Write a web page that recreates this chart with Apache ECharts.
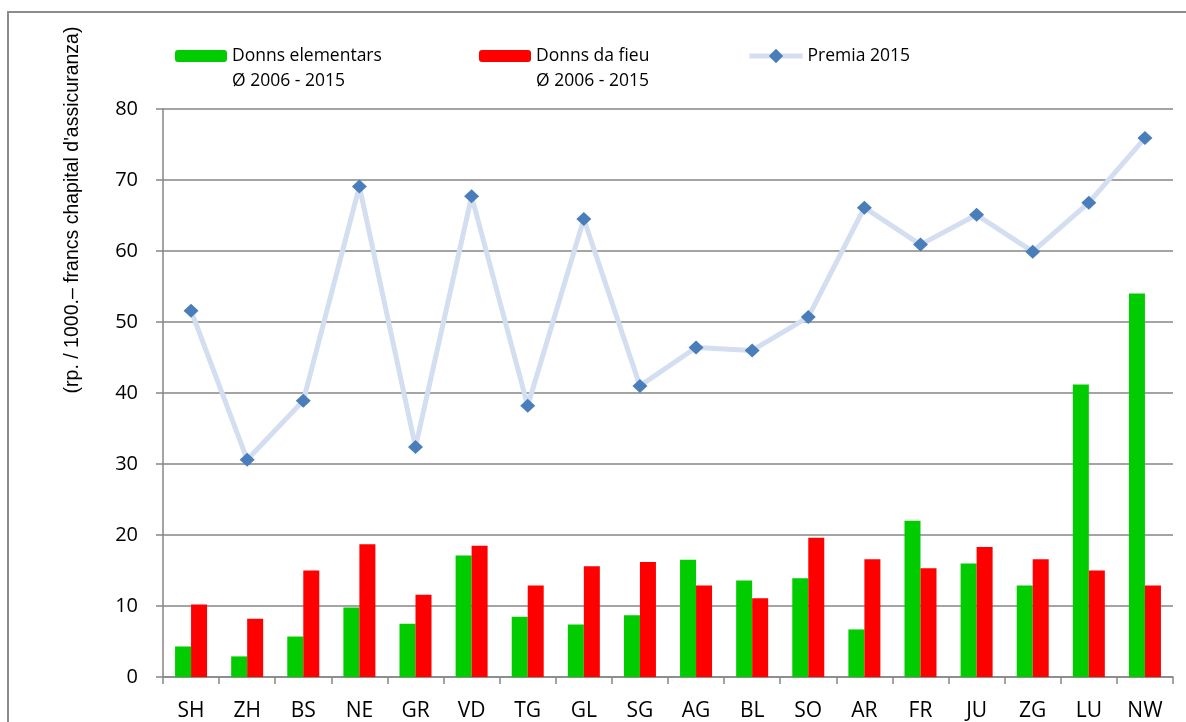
<!DOCTYPE html>
<html>
<head>
<meta charset="utf-8">
<script src="https://cdn.jsdelivr.net/npm/echarts@6/dist/echarts.min.js"></script>
<style>
html,body{margin:0;padding:0;background:#fff;}
#chart{width:1186px;height:722px;}
</style>
</head>
<body>
<div id="chart"></div>
<script>
const categories = ['SH','ZH','BS','NE','GR','VD','TG','GL','SG','AG','BL','SO','AR','FR','JU','ZG','LU','NW'];
const elementars = [4.3, 2.9, 5.7, 9.8, 7.5, 17.1, 8.5, 7.4, 8.7, 16.5, 13.6, 13.9, 6.7, 22.0, 16.0, 12.9, 41.2, 54.0];
const fieu = [10.2, 8.2, 15.0, 18.7, 11.6, 18.5, 12.9, 15.6, 16.2, 12.9, 11.1, 19.6, 16.6, 15.3, 18.3, 16.6, 15.0, 12.9];
const premia = [51.6, 30.6, 38.9, 69.1, 32.4, 67.7, 38.2, 64.5, 41.0, 46.4, 46.0, 50.7, 66.1, 60.9, 65.1, 59.9, 66.8, 75.9];
const seriesNames = ['Donns elementars', 'Donns da fieu', 'Premia 2015'];
const subNote = 'Ø 2006 - 2015';
const yTitle = "(rp. / 1000.– francs chapital d'assicuranza)";
const yTicks = {min: 0, max: 80, interval: 10};

const FONT = 'Open Sans';
const axisGray = '#868686';
const chart = echarts.init(document.getElementById('chart'));

function twoLine(name){ return '{a|' + name + '}\n{a|' + subNote + '}'; }
const legendText = {
  fontFamily: FONT, fontSize: 17.5, color: '#000',
  rich: { a: { fontFamily: FONT, fontSize: 17.5, lineHeight: 25, color: '#000' } },
  padding: [25, 0, 0, 0]
};

chart.setOption({
  animation: false,
  backgroundColor: '#fff',
  textStyle: { fontFamily: FONT },
  graphic: [
    { type: 'rect', shape: { x: 8, y: 12, width: 1200, height: 800 },
      style: { fill: 'none', stroke: '#8c8c8c', lineWidth: 2 }, silent: true, z: -10 },
    { type: 'text', x: 73, y: 210, rotation: Math.PI / 2,
      style: { text: yTitle, fontFamily: 'Liberation Sans', fontSize: 19.5, fill: '#000',
               textAlign: 'center', textVerticalAlign: 'middle' } }
  ],
  legend: [
    { data: [seriesNames[0]], left: 170, top: 42, itemWidth: 52, itemHeight: 12,
      formatter: twoLine, textStyle: legendText, itemGap: 0, itemTextGap: 6 },
    { data: [seriesNames[1]], left: 474, top: 42, itemWidth: 52, itemHeight: 12,
      formatter: twoLine, textStyle: legendText, itemGap: 0, itemTextGap: 6 },
    { data: [seriesNames[2]], left: 742, top: 42, itemWidth: 53, itemHeight: 18, itemTextGap: 5,
      lineStyle: { color: '#D3DEF1', width: 5 },
      itemStyle: { color: '#4A7EBB' },
      textStyle: { fontFamily: FONT, fontSize: 17.5, color: '#000' } }
  ],
  grid: { left: 163, right: 13, top: 109, bottom: 44, containLabel: false },
  xAxis: {
    type: 'category', data: categories, boundaryGap: true,
    axisLine: { lineStyle: { color: axisGray, width: 1.5 } },
    axisTick: { show: true, length: 7, lineStyle: { color: axisGray, width: 1.5 } },
    axisLabel: { fontFamily: FONT, fontSize: 21, color: '#000', margin: 24, interval: 0 }
  },
  yAxis: {
    type: 'value', min: yTicks.min, max: yTicks.max, interval: yTicks.interval,
    axisLine: { show: true, lineStyle: { color: axisGray, width: 1.5 } },
    axisTick: { show: true, length: 7, lineStyle: { color: axisGray, width: 1.5 } },
    axisLabel: { fontFamily: FONT, fontSize: 20, color: '#000', margin: 25 },
    splitLine: { show: true, lineStyle: { color: axisGray, width: 1.5 } }
  },
  series: [
    { name: seriesNames[0], type: 'bar', data: elementars, barWidth: 16, barGap: '0%',
      itemStyle: { color: '#00CC00' } },
    { name: seriesNames[1], type: 'bar', data: fieu, barWidth: 16, barGap: '0%',
      itemStyle: { color: '#FF0000' } },
    { name: seriesNames[2], type: 'line', data: premia, z: 5,
      symbol: 'diamond', symbolSize: [15, 14],
      lineStyle: { color: '#D3DEF1', width: 5 },
      itemStyle: { color: '#4A7EBB' } }
  ]
});
</script>
</body>
</html>
